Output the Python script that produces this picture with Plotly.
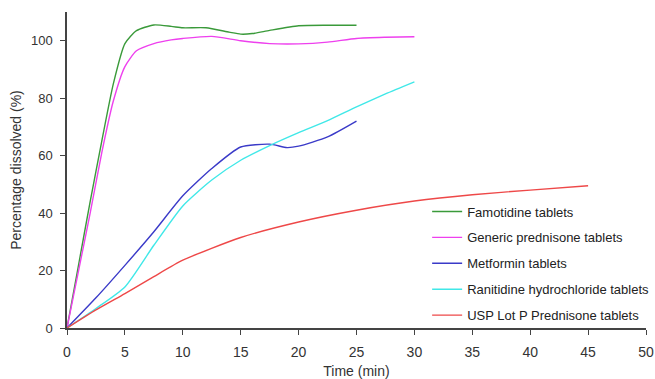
import plotly.graph_objects as go

# --- data ---
famo_t = [0, 1, 2, 3, 4, 5, 6, 7.5, 9, 10, 12, 14, 15, 16, 17.5, 20, 22.5, 25]
famo_v = [0, 22, 44, 65, 85, 99, 103.5, 105.5, 105, 104.5, 104.5, 103, 102.3, 102.5, 103.6, 105.2, 105.4, 105.4]

gen_t = [0, 1, 2, 3, 4, 5, 6, 7.5, 9, 10, 12.5, 15, 17.5, 20, 22.5, 25, 27.5, 30]
gen_v = [0, 20, 40, 61, 79, 91, 96.5, 99, 100.3, 100.8, 101.5, 100, 99, 98.9, 99.5, 100.8, 101.2, 101.4]

met_t = [0, 2.5, 5, 7.5, 10, 12.5, 15, 17.5, 19, 20, 22.5, 25]
met_v = [0, 10.5, 21.8, 33.5, 46, 55.5, 63, 64, 62.8, 63.3, 66.5, 72]

ran_t = [0, 2.5, 5, 7.5, 10, 12.5, 15, 17.5, 20, 22.5, 25, 27.5, 30]
ran_v = [0, 6.8, 14.3, 28.8, 42.5, 51.5, 58.4, 63.5, 68, 72.2, 77, 81.5, 85.7]

usp_t = [0, 2.5, 5, 7.5, 10, 15, 20, 25, 30, 35, 40, 45]
usp_v = [0, 6.3, 12, 17.9, 23.6, 31.5, 36.9, 41, 44.2, 46.4, 48, 49.5]

names = ["Famotidine tablets", "Generic prednisone tablets", "Metformin tablets",
         "Ranitidine hydrochloride tablets", "USP Lot P Prednisone tablets"]
colors = ["#3a9a3a", "#ee40ee", "#3a3ac8", "#40e8e8", "#ee4848"]

x_ticks = [0, 5, 10, 15, 20, 25, 30, 35, 40, 45, 50]
y_ticks = [0, 20, 40, 60, 80, 100]

series = [(famo_t, famo_v), (gen_t, gen_v), (met_t, met_v), (ran_t, ran_v), (usp_t, usp_v)]

fig = go.Figure()
for i, ((t, v), n, c) in enumerate(zip(series, names, colors)):
    fig.add_trace(go.Scatter(x=t, y=v, name=n, mode="lines",
                             line=dict(color=c, width=1.4, shape="spline", smoothing=0.6),
                             legendgroup=str(i)))

FONT = "Arial, Liberation Sans, sans-serif"
fig.update_layout(
    width=655, height=379,
    margin=dict(l=67, r=9, t=12, b=51, autoexpand=False),
    paper_bgcolor="white", plot_bgcolor="white",
    font=dict(family=FONT, size=13, color="#333333"),
    showlegend=True,
    legend=dict(x=0.622, y=0.416, xanchor="left", yanchor="top",
                font=dict(family=FONT, size=13, color="#222222"),
                tracegroupgap=6, bgcolor="rgba(0,0,0,0)", itemwidth=30),
    xaxis=dict(range=[0, 50], tickvals=x_ticks, showgrid=False, zeroline=False,
               showline=True, linecolor="#444444", linewidth=1.5,
               ticks="outside", ticklen=5, tickcolor="#444444",
               tickfont=dict(size=14), ticklabelstandoff=5, automargin=False,
               title=dict(text="Time (min)", font=dict(size=14), standoff=8)),
    yaxis=dict(range=[0, 110], tickvals=y_ticks, showgrid=False, zeroline=False,
               showline=True, linecolor="#444444", linewidth=1.5,
               ticks="outside", ticklen=5, tickcolor="#444444",
               tickfont=dict(size=13), ticklabelstandoff=5, automargin=False,
               title=dict(text="Percentage dissolved (%)", font=dict(size=14), standoff=6)),
)

fig.write_html("out.html", config={"displayModeBar": False},
               post_script="document.body.style.margin='0';document.body.style.overflow='hidden';")
